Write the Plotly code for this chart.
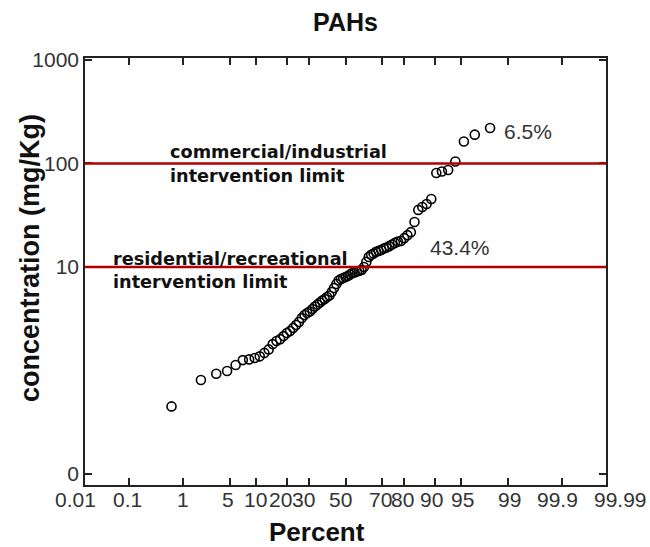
import plotly.graph_objects as go
from statistics import NormalDist

# ---- data ----
percent = [0.65, 1.95, 3.25, 4.55, 5.84, 7.14, 8.44, 9.74, 11.04, 12.34,
           13.64, 14.94, 16.23, 17.53, 18.83, 20.13, 21.43, 22.73, 24.03, 25.32,
           26.62, 27.92, 29.22, 30.52, 31.82, 33.12, 34.42, 35.71, 37.01, 38.31,
           39.61, 40.91, 42.21, 43.51, 44.81, 46.10, 47.40, 48.70, 50.00, 51.30,
           52.60, 53.90, 55.19, 56.49, 57.79, 59.09, 60.39, 61.69, 62.99, 64.29,
           65.58, 66.88, 68.18, 69.48, 70.78, 72.08, 73.38, 74.68, 75.97, 77.27,
           78.57, 79.87, 81.17, 82.47, 83.77, 85.06, 86.36, 87.66, 88.96, 90.26,
           91.56, 92.86, 94.16, 95.45, 96.75, 98.05]
concentration = [0.45, 0.81, 0.93, 0.99, 1.13, 1.26, 1.28, 1.32, 1.37, 1.48,
                 1.60, 1.80, 1.93, 2.01, 2.15, 2.30, 2.41, 2.58, 2.75, 2.94,
                 3.21, 3.44, 3.60, 3.72, 3.93, 4.15, 4.34, 4.54, 4.75, 4.91,
                 5.13, 5.31, 5.73, 6.26, 6.85, 7.41, 7.66, 7.83, 8.00, 8.19,
                 8.47, 8.75, 8.85, 9.06, 9.19, 9.35, 10.0, 11.2, 12.5, 13.1,
                 13.5, 14.0, 14.3, 14.6, 15.1, 15.4, 15.9, 16.5, 17.1, 17.6,
                 17.8, 19.0, 20.3, 21.7, 27.2, 35.6, 38.0, 40.6, 45.4, 80.9,
                 83.7, 86.5, 104.5, 163, 190, 220]

x_ticks = [0.01, 0.1, 1, 5, 10, 20, 30, 50, 70, 80, 90, 95, 99, 99.9, 99.99]
x_tick_labels = ["0.01", "0.1", "1", "5", "10", "20", "30", "50", "70", "80",
                 "90", "95", "99", "99.9", "99.99"]
y_ticks = [0.1, 10, 100, 1000]
y_tick_labels = ["0", "10", "100", "1000"]

limits = [100, 10]
limit_labels = [["commercial/industrial", "intervention limit"],
                ["residential/recreational", "intervention limit"]]
exceed_labels = ["6.5%", "43.4%"]

# ---- styling (pixel offsets of the x tick labels, as drawn in the original) ----
x_label_shift = [-9, -2, 0, -2, 0, -6, -5, -5, -2, -2, -4, 2, 1, -4, 14]

# ---- probability scale ----
nd = NormalDist()
def zq(p):
    return nd.inv_cdf(p / 100.0)

xz = [zq(p) for p in percent]
tickz = [zq(p) for p in x_ticks]
zmax = zq(99.99)
xrange_ = [-zmax, zmax]

fig = go.Figure()
fig.add_trace(go.Scatter(
    x=xz, y=concentration, mode="markers",
    marker=dict(symbol="circle-open", size=9, color="black",
                line=dict(width=1.6, color="black")),
    showlegend=False, hoverinfo="skip"))

for lim in limits:
    fig.add_shape(type="line", xref="paper", x0=0, x1=1, yref="y",
                  y0=lim, y1=lim, line=dict(color="#b00000", width=2.5))

FONT = "Liberation Sans, Arial, sans-serif"
VFONT = "DejaVu Sans, Verdana, sans-serif"
W, H = 650, 547
L, R, T, B = 85, 44, 58, 62
pw, ph = W - L - R, H - T - B

def px(xp):
    return (xp - L) / pw

def py(yp):
    return (H - B - yp) / ph

# x tick labels (positions from the probability scale, nudged like the original)
for tz, lab, sh in zip(tickz, x_tick_labels, x_label_shift):
    xpaper = (tz - xrange_[0]) / (xrange_[1] - xrange_[0])
    fig.add_annotation(x=xpaper, y=py(499), xref="paper", yref="paper", text=lab,
                       showarrow=False, xanchor="center", yanchor="middle",
                       xshift=sh, font=dict(family=FONT, size=21, color="#333"))

# limit labels
label_pos = [(168, 152, 176), (111, 259, 282)]
for (lx, y1, y2), lines in zip(label_pos, limit_labels):
    for yy, txt in zip((y1, y2), lines):
        fig.add_annotation(x=px(lx), y=py(yy), xref="paper", yref="paper",
                           text="<b>" + txt + "</b>", showarrow=False,
                           xanchor="left", yanchor="middle",
                           font=dict(family=VFONT, size=17.7, color="#111"))

for (ex, ey), txt in zip([(502, 131), (428, 247)], exceed_labels):
    fig.add_annotation(x=px(ex), y=py(ey), xref="paper", yref="paper",
                       text=txt, showarrow=False, xanchor="left",
                       yanchor="middle",
                       font=dict(family=FONT, size=21, color="#333"))

# axis titles
fig.add_annotation(x=px(317), y=py(532), xref="paper", yref="paper",
                   text="<b>Percent</b>", showarrow=False,
                   xanchor="center", yanchor="middle",
                   font=dict(family=FONT, size=26, color="#111"))
fig.add_annotation(x=px(30), y=py(258), xref="paper", yref="paper",
                   text="<b>concentration (mg/Kg)</b>", showarrow=False,
                   textangle=-90, xanchor="center", yanchor="middle",
                   font=dict(family=FONT, size=27, color="#111"))

fig.update_layout(
    width=W, height=H,
    margin=dict(l=L, r=R, t=T, b=B),
    plot_bgcolor="white", paper_bgcolor="white",
    title=dict(text="<b>PAHs</b>", x=(L + pw / 2) / W, xanchor="center",
               y=1 - 22 / H, yanchor="middle",
               font=dict(family=FONT, size=25, color="#111")),
    font=dict(family=FONT, size=21, color="#333"),
)
fig.update_xaxes(range=xrange_, tickvals=tickz, showticklabels=False,
                 ticks="inside", ticklen=7, tickwidth=1.5,
                 tickcolor="#222", showline=True, linecolor="#222", linewidth=1.5,
                 mirror="allticks", showgrid=False, zeroline=False)
fig.update_yaxes(type="log", range=[-1.106, 3.019], tickvals=y_ticks,
                 ticktext=y_tick_labels, ticks="inside", ticklen=7,
                 tickwidth=1.5, tickcolor="#222", showline=True,
                 linecolor="#222", linewidth=1.5, mirror="allticks",
                 showgrid=False, zeroline=False,
                 tickfont=dict(family=FONT, size=21, color="#333"))

fig.write_html("out.html")
